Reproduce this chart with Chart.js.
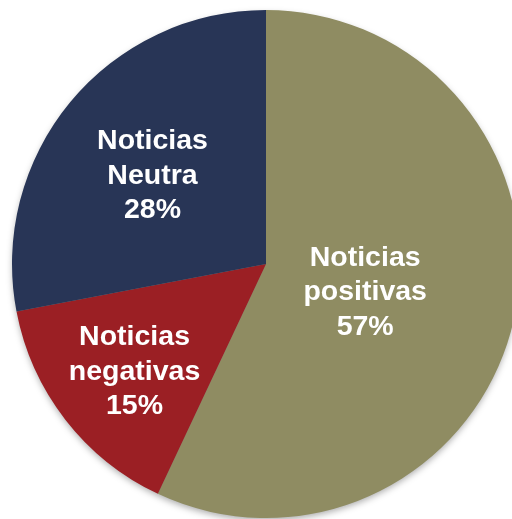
<!DOCTYPE html>
<html>
<head>
<meta charset="utf-8">
<script src="https://cdn.jsdelivr.net/npm/chart.js@4"></script>
<style>
    html,body{margin:0;padding:0;background:#fff;overflow:hidden;}
    .wrap{position:absolute;left:0;top:0;width:532px;height:528px;}
</style>
</head>
<body>
<div class="wrap"><canvas id="pie"></canvas></div>
<script>
// datos
const categorias=['Noticias positivas','Noticias negativas','Noticias Neutra'];
const etiquetas=[['Noticias','positivas','57%'],['Noticias','negativas','15%'],['Noticias','Neutra','28%']];
const valores=[57,15,28];
const colores=['#8f8c62','#9b1f24','#283556'];
// distancia de la etiqueta al centro (fraccion del radio)
const distLabel=[0.40,0.655,0.58];

// sombra bajo el pastel
const sombra={
    id:'sombra',
    beforeDatasetsDraw(chart){
        const arc=chart.getDatasetMeta(0).data[0];
        if(!arc) return;
        const ctx=chart.ctx;
        ctx.save();
        ctx.shadowColor='rgba(0,0,0,0.35)';
        ctx.shadowBlur=7;
        ctx.shadowOffsetY=3;
        ctx.fillStyle='#888';
        ctx.beginPath();
        ctx.arc(arc.x,arc.y,arc.outerRadius-1,0,Math.PI*2);
        ctx.fill();
        ctx.restore();
    }
};

// etiquetas dentro de cada porcion
const textos={
    id:'textos',
    afterDatasetsDraw(chart){
        const ctx=chart.ctx;
        const meta=chart.getDatasetMeta(0);
        ctx.save();
        ctx.fillStyle='#fff';
        ctx.font='bold 28.5px "Liberation Sans", Arial, sans-serif';
        ctx.textAlign='center';
        ctx.textBaseline='middle';
        meta.data.forEach((a,i)=>{
            const ang=(a.startAngle+a.endAngle)/2;
            const r=a.outerRadius*distLabel[i];
            const x=a.x+Math.cos(ang)*r;
            const y=a.y+Math.sin(ang)*r+6;
            const lines=etiquetas[i];
            const lh=34.5;
            lines.forEach((t,j)=>{
                ctx.fillText(t,x,y+(j-(lines.length-1)/2)*lh);
            });
        });
        ctx.restore();
    }
};

const can=document.getElementById('pie');
new Chart(can,{
    type:'pie',
    data:{
        labels:categorias,
        datasets:[{
            data:valores,
            backgroundColor:colores,
            borderWidth:0
        }]
    },
    options:{
        responsive:true,
        maintainAspectRatio:false,
        animation:false,
        layout:{padding:10},
        plugins:{
            legend:{display:false},
            tooltip:{enabled:false}
        }
    },
    plugins:[sombra,textos]
});
</script>
</body>
</html>
